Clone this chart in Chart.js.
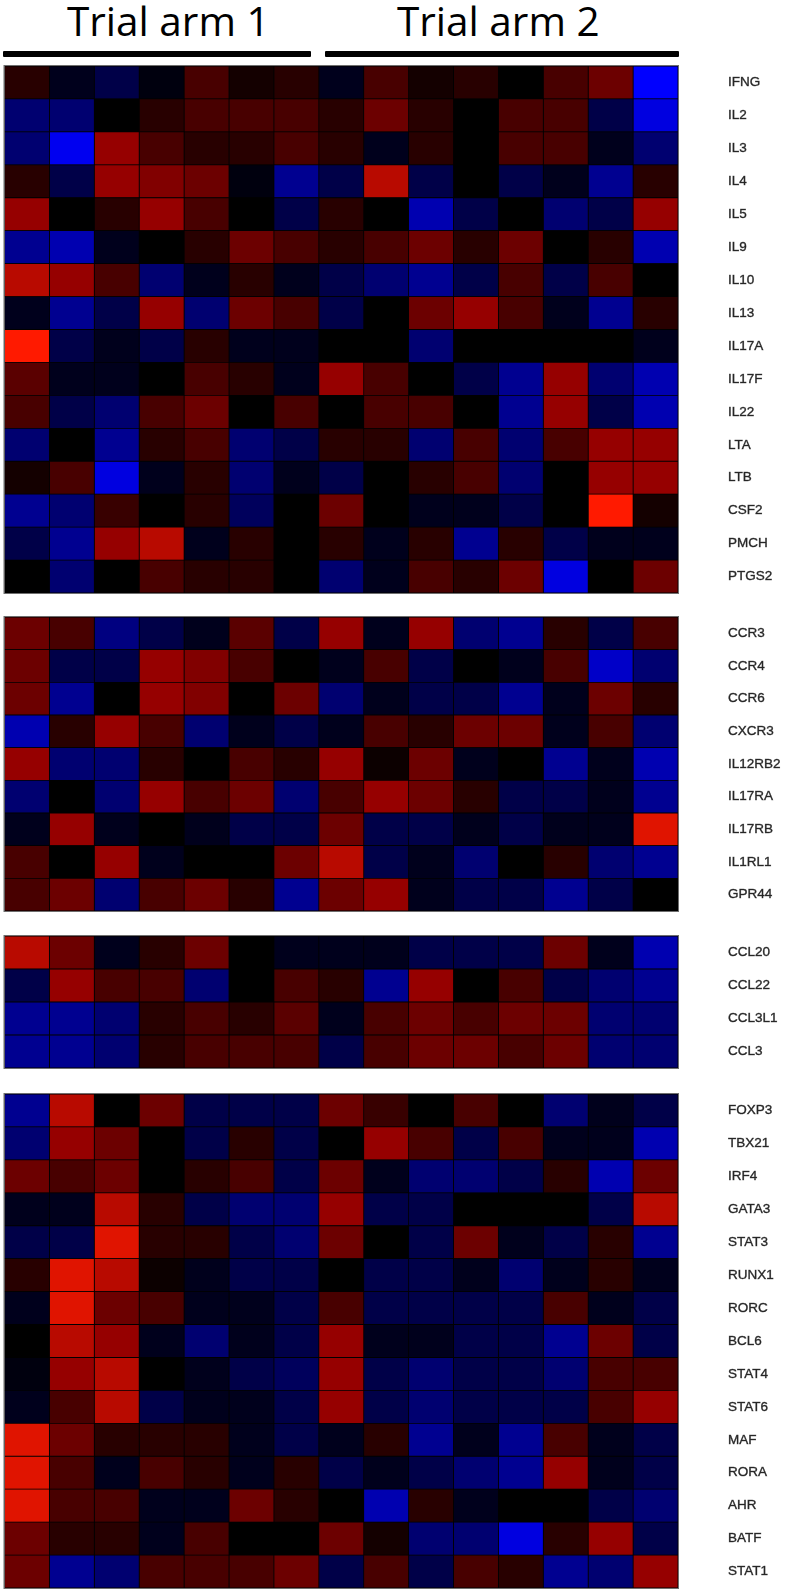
<!DOCTYPE html>
<html><head><meta charset="utf-8">
<script src="https://cdn.jsdelivr.net/npm/chart.js@4/dist/chart.umd.min.js"></script>
<style>
html,body{margin:0;padding:0;background:#fff;overflow:hidden}
#page{position:relative;width:788px;height:1592px;background:#fff}
canvas{position:absolute;left:0}
.arm{position:absolute;top:-9px;font-family:"Open Sans",sans-serif;font-size:40.5px;line-height:60px;color:#000;white-space:nowrap}
.bar{position:absolute;top:51px;height:6px;background:#000;border-radius:1px}
</style></head><body>
<div id="page">
<div class="arm" id="arm1" style="left:67px"></div>
<div class="bar" style="left:3px;width:308px"></div>
<div class="arm" id="arm2" style="left:397px"></div>
<div class="bar" style="left:325px;width:354px"></div>
</div>
<script>
const armTitles = ["Trial arm 1","Trial arm 2"];
const columns = [1,2,3,4,5,6,7,8,9,10,11,12,13,14,15];

const cytokineGenes = ["IFNG","IL2","IL3","IL4","IL5","IL9","IL10","IL13","IL17A","IL17F","IL22","LTA","LTB","CSF2","PMCH","PTGS2"];
const cytokineValues = [
 [1,-1,-2,-.5,2,.5,1,-1,2,.5,1,0,2,3,-7],
 [-3,-3,0,1,2,2,2,1,3,1,0,2,2,-2,-6],
 [-3,-6.5,4,2,1,1,2,1,-1,1,0,2,2,-1,-3],
 [1,-2,4,3.5,3,-.5,-4,-2,5,-2,0,-2,-1,-4,1],
 [4,0,1,4,2,0,-2,1,0,-5,-2,0,-3,-2,4],
 [-4,-5,-1,0,1,3,2,1,2,3,1,3,0,1,-5],
 [5,4,2,-3,-1,1,-1,-2,-3,-4,-2,2,-2,2,0],
 [-1,-4,-2,4,-3,3,2,-2,0,3,4,2,-1,-4,1],
 [7,-2,-1,-2,1,-1,-1,0,0,-3,0,0,0,0,-1],
 [2.5,-1,-1,0,2,1,-1,4,2,0,-2,-4,4,-3,-5],
 [2,-2,-3,2,3,0,2,0,2,2,0,-4,4,-2,-5],
 [-3,0,-4,1,2,-3,-2,1,1,-3,2,-3,2,4,4],
 [.5,2,-6,-1,1,-3,-1,-2,0,1,2,-3,0,4,4],
 [-4,-3,1.5,0,1,-2.5,0,3,0,-1,-1,-2,0,7,.5],
 [-2,-4,4,5,-1,1,0,1,-1,1,-4,1,-2,-1,-1],
 [0,-3,0,2,1,1,0,-3,-1,2,1,3,-6,0,3]
];

const receptorGenes = ["CCR3","CCR4","CCR6","CXCR3","IL12RB2","IL17RA","IL17RB","IL1RL1","GPR44"];
const receptorValues = [
 [3,2,-3.5,-2,-1,2.5,-2,4,-1,4,-3,-4,1,-2,2],
 [3,-2,-2,4,3.5,2,0,-1,2,-2,0,-1,2,-5.5,-3],
 [3,-4,0,4,3.5,0,3,-3,-1,-2,-2,-4,-1,3,1],
 [-5,1,4,2,-3,-1,-2,-1,2,1,3,3,-1,2,-3],
 [4,-3,-3,1,0,2,1,4,.3,3,-1,0,-4,-1,-5],
 [-3,0,-3,4,2,3,-3,2,4,3,1,-2,-2,-1,-4],
 [-1,4,-1,0,-1,-2,-2,3,-2,-2,-1,-2,-1,-1,6],
 [2,0,4,-1,0,0,3,5,-2,-1,-3,0,1,-3,-4],
 [2,3,-3,2,3,1,-4,3,4,-1,-2,-2,-4,-2,0]
];

const chemokineGenes = ["CCL20","CCL22","CCL3L1","CCL3"];
const chemokineValues = [
 [5,3,-1,1,3,0,-1,-1,-1,-2,-2,-2,3,-1,-5],
 [-2,4,2,2,-3,0,2,1,-4,4,0,2,-2,-3,-4],
 [-4,-4,-3,1,2,1,2.5,-1,2,3,2,3,3,-3,-3],
 [-4,-4,-3,1,2,2,2,-2,2,3,3,2,3,-3,-3]
];

const factorGenes = ["FOXP3","TBX21","IRF4","GATA3","STAT3","RUNX1","RORC","BCL6","STAT4","STAT6","MAF","RORA","AHR","BATF","STAT1"];
const factorValues = [
 [-4,5,0,3,-2,-2,-2,3,1.5,0,2,0,-3,-1,-2],
 [-3,4,3,0,-2,1,-2,0,4,2,-2,2,-1,-1,-5],
 [3,2,3,0,1,2,-2,3,-1,-3,-3,-2,1,-5,3],
 [-1,-1,5,1,-2,-3,-3,4,-2,-2,0,0,0,-2,5],
 [-2,-2,6,1,1,-2,-3,3,0,-2,3,-1,-2,1,-4],
 [1,6,5,.3,-1,-2,-2,0,-2,-2,-1,-3,-1,1,-1],
 [-1,6,3,2,-1,-1,-2,2,-2,-2,-2,-2,2,-1,-2],
 [0,5,4,-1,-3,-1,-2,4,-1,-1,-2,-2,-4,3,-2],
 [-.5,4,5,0,-1,-2,-2.5,4,-2,-3,-2,-2,-3,2,2],
 [-1,2,5,-2,-1,-1,-2,4,-2,-3,-2,-2,-2,2,4],
 [6,3,1,1,1,-1,-2,-1,1,-4,-1,-4,2,-1,-2],
 [6,2,-1,2,1,-1,1,-2,-1,-2,-3,-4,4,-1,-2],
 [6,2,2,-1,-1,3,1,0,-5,1,-1,0,0,-2,-3],
 [3,1,1,-1,2,0,0,3,.5,-3,-3,-6,1,4,-2],
 [3,-4,-3,2,2,2,3,-2,2,-2,2,1,-4,-3,4]
];

const redStops = [[0,0,0],[40,0,0],[72,0,0],[108,0,0],[150,0,0],[184,10,0],[224,20,0],[255,26,0]];
const blueStops = [[0,0,0],[0,0,28],[0,0,72],[0,0,112],[0,0,144],[0,0,176],[0,0,224],[0,0,255]];

function cellColor(v){
  const stops = v < 0 ? blueStops : redStops;
  const a = Math.min(Math.abs(v), 7), i = Math.floor(a), j = Math.min(i + 1, 7), f = a - i;
  const c = stops[i].map((s, k) => Math.round(s + (stops[j][k] - s) * f));
  return `rgb(${c[0]},${c[1]},${c[2]})`;
}

const framePlugin = {
  id: "frame",
  beforeDatasetsDraw(chart){
    const {ctx, chartArea: a} = chart;
    ctx.save();
    ctx.fillStyle = "#000";
    ctx.fillRect(a.left, a.top, a.right - a.left, a.bottom - a.top);
    ctx.restore();
  },
  afterDatasetsDraw(chart){
    const {ctx, chartArea: a} = chart;
    ctx.save();
    ctx.strokeStyle = "#6e6e6e";
    ctx.lineWidth = 1;
    ctx.strokeRect(a.left - .5, a.top - .5, a.right - a.left + 1, a.bottom - a.top + 1);
    ctx.restore();
  }
};

function panel(genes, values, top, bottom){
  const pad = 8;
  const canvas = document.createElement("canvas");
  canvas.width = 788;
  canvas.height = bottom - top + pad * 2;
  canvas.style.top = (top - pad) + "px";
  document.getElementById("page").appendChild(canvas);
  new Chart(canvas, {
    type: "bar",
    data: {
      labels: genes,
      datasets: columns.map((c, k) => ({
        label: "Sample " + c,
        data: genes.map(() => [c - 1, c]),
        backgroundColor: values.map(row => cellColor(row[k])),
        borderColor: "#000",
        borderWidth: .75,
        borderSkipped: false,
        barPercentage: 1,
        categoryPercentage: 1,
        grouped: false
      }))
    },
    options: {
      indexAxis: "y",
      responsive: false,
      animation: false,
      layout: {autoPadding: false, padding: {left: 4.5, right: 0, top: 0, bottom: 0}},
      plugins: {legend: {display: false}, title: {display: false}, tooltip: {enabled: false}},
      scales: {
        x: {type: "linear", min: 0, max: columns.length, display: false},
        y: {
          type: "category",
          position: "right",
          grid: {display: true, drawOnChartArea: false, drawTicks: true, tickLength: 50, tickColor: "rgba(0,0,0,0)"},
          border: {display: false},
          afterFit: s => { s.width = 110; },
          ticks: {
            autoSkip: false,
            padding: 0,
            color: "#262626",
            textStrokeColor: "rgba(38,38,38,.75)",
            textStrokeWidth: .45,
            font: {family: "'Liberation Sans', Arial, sans-serif", size: 13.5, lineHeight: 16 / 13.5, weight: "normal"}
          }
        }
      }
    },
    plugins: [framePlugin]
  });
}

document.getElementById("arm1").textContent = armTitles[0];
document.getElementById("arm2").textContent = armTitles[1];
panel(cytokineGenes, cytokineValues, 66, 593);
panel(receptorGenes, receptorValues, 617, 911);
panel(chemokineGenes, chemokineValues, 936, 1068);
panel(factorGenes, factorValues, 1094, 1588);
</script>
</body></html>
